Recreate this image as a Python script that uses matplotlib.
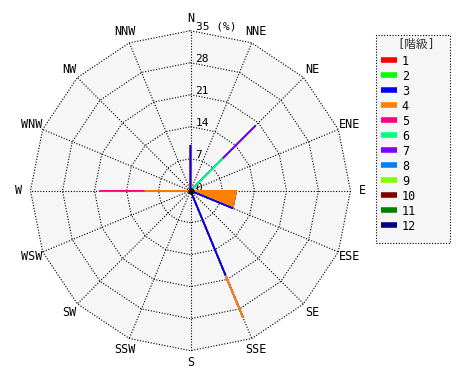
import numpy as np
import matplotlib
matplotlib.use('Agg')
import matplotlib.pyplot as plt
from matplotlib.lines import Line2D
from matplotlib.patches import Rectangle

plt.rcParams['font.family'] = ['DejaVu Sans Mono', 'Noto Sans CJK JP']

# 16方位 (北から時計回り)
direcciones = ['N', 'NNE', 'NE', 'ENE', 'E', 'ESE', 'SE', 'SSE',
               'S', 'SSW', 'SW', 'WSW', 'W', 'WNW', 'NW', 'NNW']

# 階級ごとの出現率 (%) - 各方位
clase_1 = [0, 0, 0, 0, 0, 0, 0, 0, 0, 0, 0, 0, 0, 0, 0, 0]
clase_2 = [0, 0, 0, 0, 0, 0, 0, 0, 0, 0, 0, 0, 0, 0, 0, 0]
clase_3 = [10, 0, 0, 0, 0, 10, 0, 20, 0, 0, 0, 0, 0, 0, 0, 0]
clase_4 = [0, 0, 0, 0, 10, 0, 0, 10, 0, 0, 0, 0, 10, 0, 0, 0]
clase_5 = [0, 0, 0, 0, 0, 0, 0, 0, 0, 0, 0, 0, 10, 0, 0, 0]
clase_6 = [0, 0, 10, 0, 0, 0, 0, 0, 0, 0, 0, 0, 0, 0, 0, 0]
clase_7 = [0, 0, 10, 0, 0, 0, 0, 0, 0, 0, 0, 0, 0, 0, 0, 0]
clase_8 = [0, 0, 0, 0, 0, 0, 0, 0, 0, 0, 0, 0, 0, 0, 0, 0]
clase_9 = [0, 0, 0, 0, 0, 0, 0, 0, 0, 0, 0, 0, 0, 0, 0, 0]
clase_10 = [0, 0, 0, 0, 0, 0, 0, 0, 0, 0, 0, 0, 0, 0, 0, 0]
clase_11 = [0, 0, 0, 0, 0, 0, 0, 0, 0, 0, 0, 0, 0, 0, 0, 0]
clase_12 = [0, 0, 0, 0, 0, 0, 0, 0, 0, 0, 0, 0, 0, 0, 0, 0]

etiquetas_clase = ['1', '2', '3', '4', '5', '6', '7', '8', '9', '10', '11', '12']
colores = ['#FF0000', '#00FF00', '#0000FF', '#FF8000', '#FF0080', '#00FF80',
           '#8000FF', '#0080FF', '#80FF00', '#800000', '#008000', '#000080']

anillos = [7, 14, 21, 28, 35]
etiquetas_anillo = ['7', '14', '21', '28', '35 (%)']
r_max = 35

# acumulado por clase
tabla = np.array([clase_1, clase_2, clase_3, clase_4, clase_5, clase_6,
                  clase_7, clase_8, clase_9, clase_10, clase_11, clase_12], dtype=float)
acumulado = np.cumsum(tabla, axis=0)

theta = np.deg2rad(np.arange(16) * 22.5)
sx, cy = np.sin(theta), np.cos(theta)

def poligono(r):
    r = np.asarray(r, dtype=float) * np.ones(16)
    x = np.append(r * sx, r[0] * sx[0])
    y = np.append(r * cy, r[0] * cy[0])
    return x, y

# figura: 1 unidad = 160/35 px
esc = 160 / 35
fig = plt.figure(figsize=(4.7, 3.8), dpi=100)
ax = fig.add_axes([0, 0, 1, 1])
ax.set_xlim(-190.5 / esc, (470 - 190.5) / esc)
ax.set_ylim(-(380 - 190.7) / esc, 190.7 / esc)
ax.axis('off')

# fondo y rejilla
x, y = poligono(r_max)
ax.fill(x, y, color='#F6F6F6', zorder=0)
for r in anillos:
    x, y = poligono(r)
    ax.plot(x, y, color='black', lw=0.8, ls=(0, (1, 1.5)), zorder=1)
for i in range(16):
    ax.plot([0, r_max * sx[i]], [0, r_max * cy[i]], color='black', lw=0.8,
            ls=(0, (1, 1.5)), zorder=1)

# etiquetas de anillos
off = 5 / esc
ax.text(off, 0.6, '0', fontsize=8, ha='left', va='center', zorder=2)
for r, t in zip(anillos, etiquetas_anillo):
    ax.text(off, r + 4 / esc, t, fontsize=8, ha='left', va='center', zorder=2)

# direcciones
r_lab = 172 / esc
for i, d in enumerate(direcciones):
    ax.text(r_lab * sx[i], r_lab * cy[i], d, fontsize=8.5, ha='center', va='center')

# datos: de la clase 12 a la 1
for k in range(11, -1, -1):
    x, y = poligono(acumulado[k])
    ax.fill(x, y, facecolor=colores[k], edgecolor=colores[k], lw=1.0, zorder=3)

ax.plot([0], [0], 'o', color='black', ms=3.5, zorder=4)

# marco de la leyenda
W, H = 470, 380
ax.add_patch(Rectangle((375.7 / W, 1 - 243 / H), 74.3 / W, 208 / H,
                       transform=fig.transFigure, facecolor='#F6F6F6',
                       edgecolor='black', lw=0.8, ls=(0, (1, 1.5)), zorder=1,
                       clip_on=False))
ax.text(416 / W, 1 - 44 / H, '[階級]', transform=fig.transFigure, fontsize=8.5,
        ha='center', va='center', color='#333333')

# leyenda
manijas = [Line2D([], [], color=c, lw=4, solid_capstyle='butt') for c in colores]
leg = ax.legend(manijas, etiquetas_clase, loc='upper left',
                bbox_to_anchor=(377 / W, 1 - 51 / H), bbox_transform=fig.transFigure,
                fontsize=8.5, handlelength=1.4, handletextpad=0.4,
                labelspacing=0.17, borderpad=0.3, borderaxespad=0, frameon=False)

plt.savefig('out.png', dpi=100)
